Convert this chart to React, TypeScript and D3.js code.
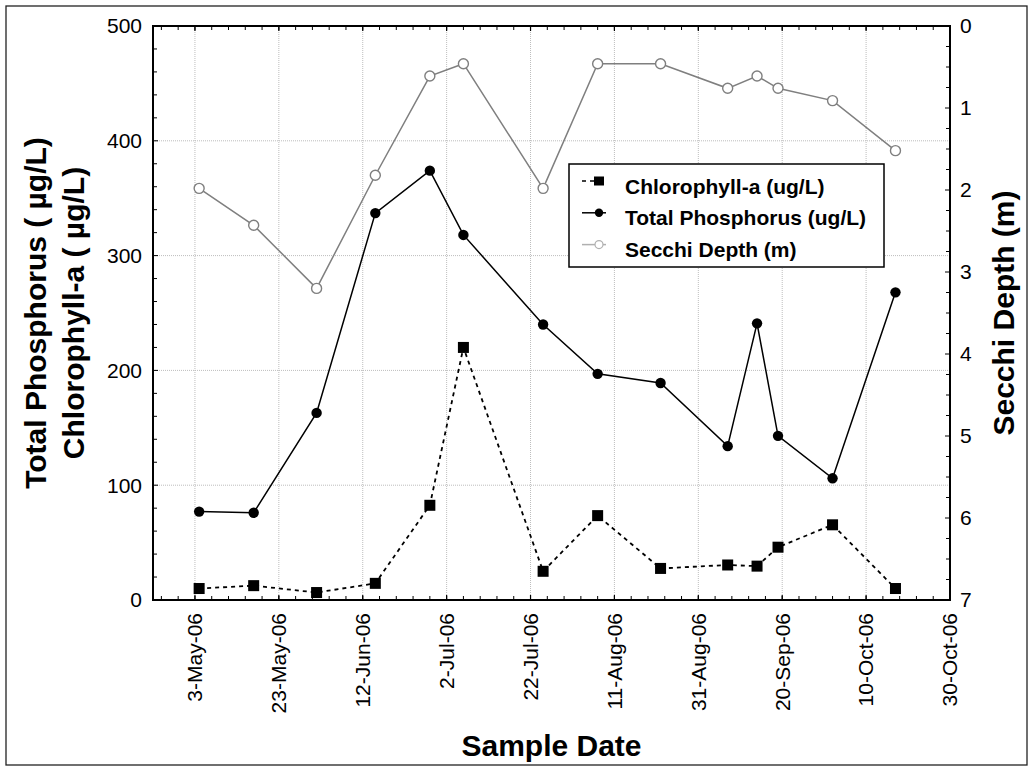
import React from 'react';
import * as d3 from 'd3';

// ---- data ----
const sampleDates = [
  '2006-05-04', '2006-05-17', '2006-06-01', '2006-06-15', '2006-06-28', '2006-07-06', '2006-07-25',
  '2006-08-07', '2006-08-22', '2006-09-07', '2006-09-14', '2006-09-19', '2006-10-02', '2006-10-17',
];
const chlorophyll = [10, 12.5, 6.5, 14.5, 82.5, 220, 25, 73.5, 27.5, 30.5, 29.5, 46, 65.5, 10];
const totalPhosphorus = [77, 76, 163, 337, 374, 318, 240, 197, 189, 134, 241, 143, 106, 268];
const secchiDepth = [1.98, 2.43, 3.2, 1.82, 0.61, 0.46, 1.98, 0.46, 0.46, 0.76, 0.61, 0.76, 0.91, 1.52];

const xDomain = ['2006-04-23', '2006-10-30'];
const xMajorTicks = [
  '2006-05-03', '2006-05-23', '2006-06-12', '2006-07-02', '2006-07-22',
  '2006-08-11', '2006-08-31', '2006-09-20', '2006-10-10', '2006-10-30',
];
const leftTicks = [0, 100, 200, 300, 400, 500];
const rightTicks = [0, 1, 2, 3, 4, 5, 6, 7];

const legendItems = ['Chlorophyll-a (ug/L)', 'Total Phosphorus (ug/L)', 'Secchi Depth (m)'];

const FONT = "'Liberation Sans', Arial, Helvetica, sans-serif";

export default function App() {
  const W = 1032, H = 772;
  const L = 153, R = 950, T = 26, B = 600;
  const parse = d3.utcParse('%Y-%m-%d');
  const fmt = d3.utcFormat('%-d-%b-%y');

  const x = d3.scaleUtc().domain(xDomain.map((d) => parse(d)!)).range([L, R]);
  const yL = d3.scaleLinear().domain([0, 500]).range([B, T]);
  const yR = d3.scaleLinear().domain([0, 7]).range([T, B]);

  const dates = sampleDates.map((d) => parse(d)!);
  const majors = xMajorTicks.map((d) => parse(d)!);
  const [d0, d1] = x.domain();
  const minorX = d3
    .range(-5, 50)
    .map((k) => d3.utcDay.offset(majors[0], 4 * k))
    .filter((d) => d >= d0 && d <= d1);
  const minorL = d3.range(0, 501, 20);
  const minorR = d3.range(0, 7.001, 0.25);

  const lineL = d3
    .line<[Date, number]>()
    .x((d) => x(d[0]))
    .y((d) => yL(d[1]));
  const lineR = d3
    .line<[Date, number]>()
    .x((d) => x(d[0]))
    .y((d) => yR(d[1]));

  const chlPts: [Date, number][] = dates.map((d, i) => [d, chlorophyll[i]]);
  const tpPts: [Date, number][] = dates.map((d, i) => [d, totalPhosphorus[i]]);
  const sdPts: [Date, number][] = dates.map((d, i) => [d, secchiDepth[i]]);

  const grid = '#bdbdbd';
  const secchiColor = '#7f7f7f';

  return (
    <svg
      width={W}
      height={H}
      style={{ position: 'absolute', left: 0, top: 0, background: '#fff' }}
      fontFamily={FONT}
    >
      <rect x={0} y={0} width={W} height={H} fill="#fff" />
      <rect x={6} y={6} width={1021} height={759} fill="none" stroke="#222" strokeWidth={1.3} />

      {/* gridlines */}
      {majors
        .filter((d) => x(d) > L + 1 && x(d) < R - 1)
        .map((d, i) => (
          <line key={'gx' + i} x1={x(d)} x2={x(d)} y1={T} y2={B} stroke={grid} strokeWidth={1} strokeDasharray="1,1" />
        ))}
      {leftTicks
        .filter((v) => v > 0 && v < 500)
        .map((v) => (
          <line key={'gy' + v} x1={L} x2={R} y1={yL(v)} y2={yL(v)} stroke={grid} strokeWidth={1} strokeDasharray="1,1" />
        ))}

      {/* Secchi depth */}
      <path d={lineR(sdPts)!} fill="none" stroke={secchiColor} strokeWidth={1.5} />
      {sdPts.map((p, i) => (
        <circle key={'sd' + i} cx={x(p[0])} cy={yR(p[1])} r={5} fill="#fff" stroke={secchiColor} strokeWidth={1.4} />
      ))}

      {/* Total phosphorus */}
      <path d={lineL(tpPts)!} fill="none" stroke="#000" strokeWidth={1.5} />
      {tpPts.map((p, i) => (
        <circle key={'tp' + i} cx={x(p[0])} cy={yL(p[1])} r={5.2} fill="#000" />
      ))}

      {/* Chlorophyll-a */}
      <path d={lineL(chlPts)!} fill="none" stroke="#000" strokeWidth={1.8} strokeDasharray="4,4" />
      {chlPts.map((p, i) => (
        <rect key={'ch' + i} x={x(p[0]) - 5.5} y={yL(p[1]) - 5.5} width={11} height={11} fill="#000" />
      ))}

      {/* ticks */}
      {minorX.map((d, i) => (
        <g key={'mx' + i}>
          <line x1={x(d)} x2={x(d)} y1={B} y2={B - 4} stroke="#000" strokeWidth={1} />
          <line x1={x(d)} x2={x(d)} y1={T} y2={T + 4} stroke="#000" strokeWidth={1} />
        </g>
      ))}
      {majors.map((d, i) => (
        <g key={'Mx' + i}>
          <line x1={x(d)} x2={x(d)} y1={B} y2={B - 5} stroke="#000" strokeWidth={1.2} />
          <line x1={x(d)} x2={x(d)} y1={T} y2={T + 5} stroke="#000" strokeWidth={1.2} />
          <text
            transform={`translate(${x(d)},${B + 13}) rotate(-90)`}
            textAnchor="end"
            dy="0.35em"
            fontSize={21}
            fill="#000"
          >
            {fmt(d)}
          </text>
        </g>
      ))}
      {minorL.map((v) => (
        <line key={'ml' + v} x1={L} x2={L + (v % 100 === 0 ? 5 : 4)} y1={yL(v)} y2={yL(v)} stroke="#000" strokeWidth={1} />
      ))}
      {leftTicks.map((v) => (
        <text key={'tl' + v} x={L - 11} y={yL(v)} dy="0.35em" textAnchor="end" fontSize={21} fill="#000">
          {v}
        </text>
      ))}
      {minorR.map((v, i) => (
        <line key={'mr' + i} x1={R} x2={R - (Math.abs(v - Math.round(v)) < 1e-6 ? 5 : 4)} y1={yR(v)} y2={yR(v)} stroke="#000" strokeWidth={1} />
      ))}
      {rightTicks.map((v) => (
        <text key={'tr' + v} x={R + 10} y={yR(v)} dy="0.35em" textAnchor="start" fontSize={21} fill="#000">
          {v}
        </text>
      ))}

      {/* plot frame */}
      <rect x={L} y={T} width={R - L} height={B - T} fill="none" stroke="#000" strokeWidth={2} />

      {/* axis titles */}
      <text transform={`translate(46,${(T + B) / 2}) rotate(-90)`} textAnchor="middle" fontSize={30} fontWeight="bold" fill="#000">
        Total Phosphorus ( µg/L)
      </text>
      <text transform={`translate(84,${(T + B) / 2}) rotate(-90)`} textAnchor="middle" fontSize={30} fontWeight="bold" fill="#000">
        Chlorophyll-a ( µg/L)
      </text>
      <text transform={`translate(1014,${(T + B) / 2}) rotate(-90)`} textAnchor="middle" fontSize={30} fontWeight="bold" fill="#000">
        Secchi Depth (m)
      </text>
      <text x={(L + R) / 2} y={756} textAnchor="middle" fontSize={30} fontWeight="bold" fill="#000">
        Sample Date
      </text>

      {/* legend */}
      <g>
        <rect x={569} y={164} width={315} height={103} fill="#fff" stroke="#000" strokeWidth={1.5} />
        {legendItems.map((label, i) => {
          const cy = 181 + i * 31.8;
          return (
            <g key={'lg' + i}>
              {i === 0 && (
                <>
                  <line x1={582} x2={606} y1={cy} y2={cy} stroke="#000" strokeWidth={1.5} strokeDasharray="4,4" />
                  <rect x={594} y={cy - 4.5} width={10} height={9} fill="#000" />
                </>
              )}
              {i === 1 && (
                <>
                  <line x1={582} x2={606} y1={cy} y2={cy} stroke="#000" strokeWidth={1.5} />
                  <circle cx={599} cy={cy} r={4.2} fill="#000" />
                </>
              )}
              {i === 2 && (
                <>
                  <line x1={582} x2={606} y1={cy} y2={cy} stroke="#b0b0b0" strokeWidth={1.5} />
                  <circle cx={599} cy={cy} r={4} fill="#fff" stroke="#b0b0b0" strokeWidth={1.2} />
                </>
              )}
              <text x={625} y={cy + 12.5} fontSize={21} fontWeight="bold" fill="#000">
                {label}
              </text>
            </g>
          );
        })}
      </g>
    </svg>
  );
}
